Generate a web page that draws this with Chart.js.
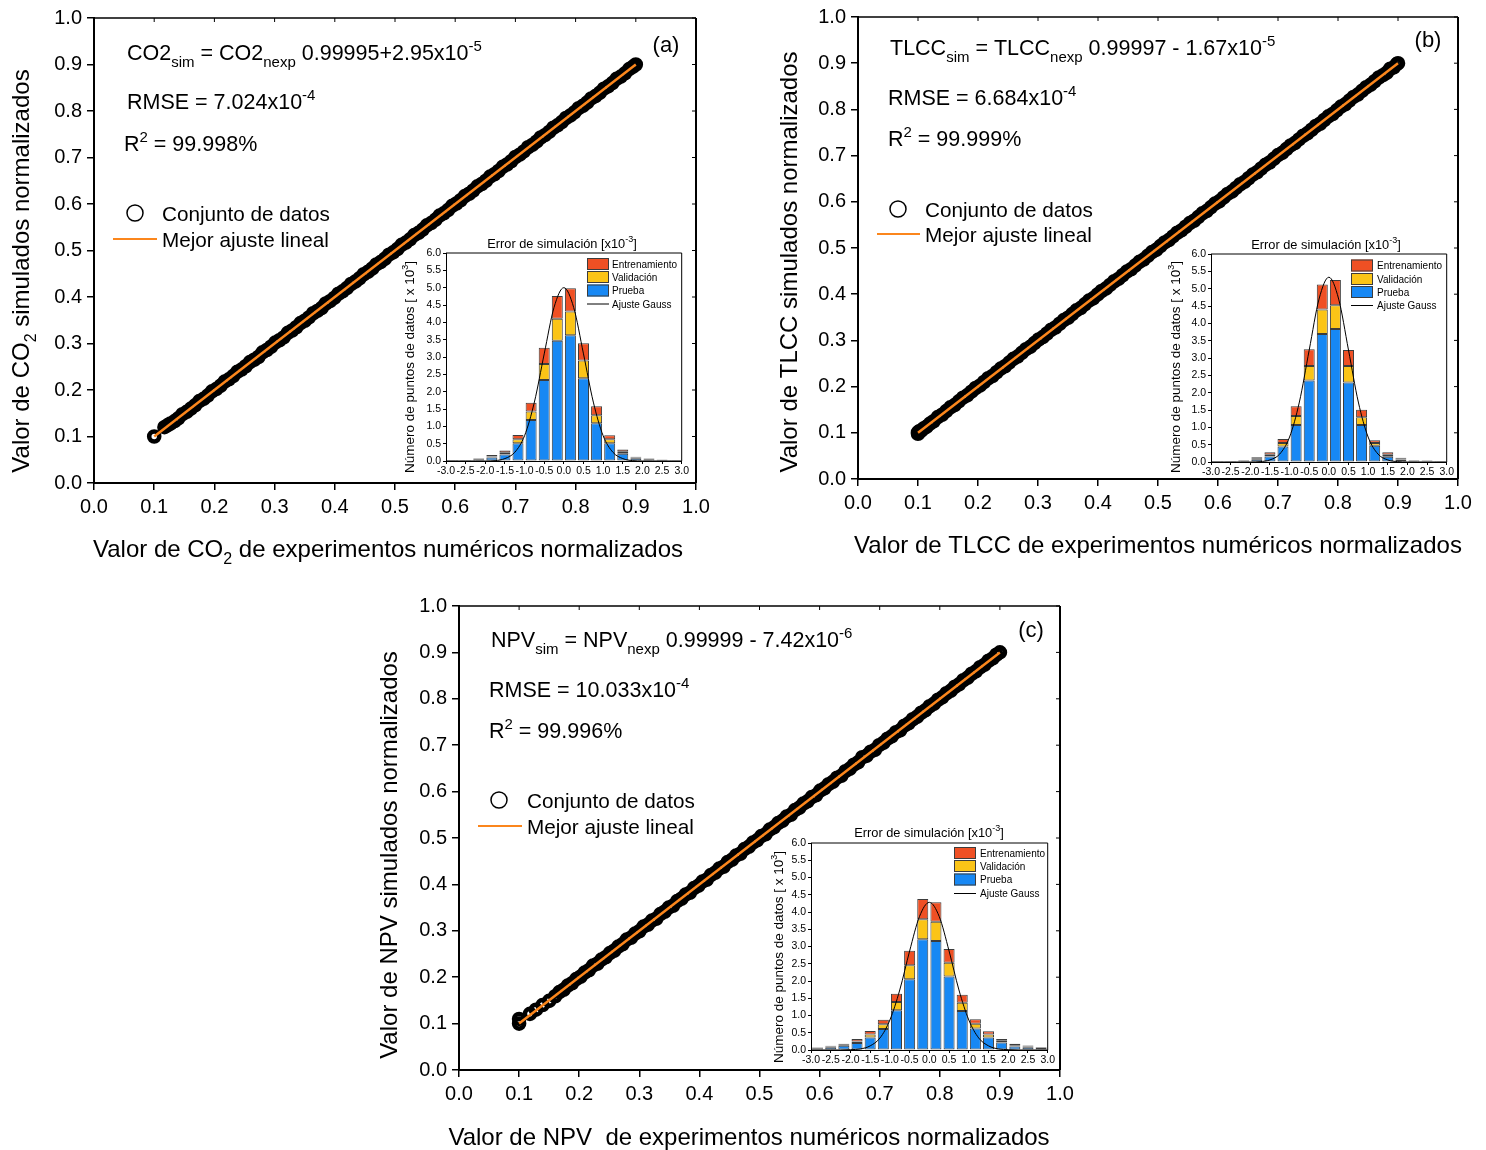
<!DOCTYPE html>
<html lang="es">
<head>
<meta charset="utf-8">
<title>Validación de simulaciones normalizadas</title>
<script src="https://cdn.jsdelivr.net/npm/chart.js@4.4.1/dist/chart.umd.min.js"></script>
<style>
  body { margin: 0; background: #fff; }
  #page { position: relative; width: 1486px; height: 1150px; overflow: hidden; background: #fff; }
  canvas { position: absolute; }
  .inset { z-index: 2; }
</style>
</head>
<body>
<div id="page">
  <canvas id="mainA" width="745" height="580" style="left:0;top:0"></canvas>
  <canvas id="mainB" width="741" height="580" style="left:745px;top:0"></canvas>
  <canvas id="mainC" width="745" height="565" style="left:360px;top:585px"></canvas>
  <canvas id="histA" class="inset" width="290" height="250" style="left:400px;top:230px"></canvas>
  <canvas id="histB" class="inset" width="290" height="250" style="left:1165px;top:230px"></canvas>
  <canvas id="histC" class="inset" width="290" height="250" style="left:766px;top:818px"></canvas>
</div>
<script>
// ---- datos: [experimento normalizado, simulado normalizado] ----
const ptsCO2 = [[0.100,0.100],[0.117,0.120],[0.122,0.124],[0.127,0.128],[0.134,0.133],[0.140,0.139],[0.147,0.148],[0.154,0.153],[0.161,0.160],[0.168,0.167],[0.175,0.176],[0.182,0.181],[0.189,0.188],[0.196,0.197],[0.203,0.202],[0.210,0.209],[0.217,0.218],[0.224,0.223],[0.231,0.230],[0.238,0.239],[0.245,0.244],[0.252,0.251],[0.259,0.260],[0.266,0.265],[0.273,0.271],[0.280,0.281],[0.287,0.286],[0.294,0.293],[0.301,0.302],[0.308,0.307],[0.315,0.313],[0.322,0.323],[0.329,0.328],[0.336,0.335],[0.343,0.344],[0.350,0.349],[0.357,0.356],[0.364,0.365],[0.371,0.370],[0.378,0.376],[0.385,0.386],[0.392,0.391],[0.399,0.398],[0.406,0.407],[0.413,0.412],[0.420,0.419],[0.427,0.428],[0.434,0.433],[0.441,0.440],[0.448,0.449],[0.455,0.454],[0.462,0.461],[0.469,0.470],[0.476,0.475],[0.483,0.482],[0.490,0.491],[0.497,0.496],[0.504,0.503],[0.511,0.512],[0.518,0.517],[0.525,0.524],[0.532,0.533],[0.539,0.538],[0.546,0.545],[0.553,0.554],[0.560,0.559],[0.567,0.566],[0.574,0.575],[0.581,0.580],[0.588,0.587],[0.595,0.596],[0.602,0.601],[0.609,0.608],[0.616,0.617],[0.623,0.622],[0.630,0.629],[0.637,0.638],[0.644,0.643],[0.651,0.650],[0.658,0.659],[0.665,0.664],[0.672,0.671],[0.679,0.680],[0.686,0.685],[0.693,0.692],[0.700,0.701],[0.707,0.706],[0.714,0.713],[0.721,0.722],[0.728,0.727],[0.735,0.734],[0.742,0.743],[0.749,0.748],[0.756,0.755],[0.763,0.764],[0.770,0.769],[0.777,0.776],[0.784,0.785],[0.791,0.790],[0.798,0.797],[0.805,0.806],[0.812,0.811],[0.819,0.818],[0.826,0.827],[0.833,0.832],[0.840,0.839],[0.847,0.848],[0.854,0.853],[0.861,0.860],[0.868,0.869],[0.875,0.874],[0.882,0.881],[0.889,0.890],[0.895,0.895],[0.900,0.900]];

const ptsTLCC = [[0.100,0.098],[0.100,0.101],[0.102,0.103],[0.105,0.104],[0.109,0.109],[0.114,0.113],[0.120,0.120],[0.126,0.125],[0.133,0.134],[0.140,0.139],[0.147,0.147],[0.154,0.155],[0.161,0.160],[0.168,0.168],[0.175,0.176],[0.182,0.181],[0.189,0.189],[0.196,0.197],[0.203,0.202],[0.210,0.210],[0.217,0.218],[0.224,0.223],[0.231,0.231],[0.238,0.239],[0.245,0.244],[0.252,0.252],[0.259,0.260],[0.266,0.265],[0.273,0.273],[0.280,0.281],[0.287,0.286],[0.294,0.294],[0.301,0.302],[0.308,0.307],[0.315,0.315],[0.322,0.323],[0.329,0.328],[0.336,0.336],[0.343,0.344],[0.350,0.349],[0.357,0.357],[0.364,0.365],[0.371,0.370],[0.378,0.378],[0.385,0.386],[0.392,0.391],[0.399,0.399],[0.406,0.407],[0.413,0.412],[0.420,0.420],[0.427,0.428],[0.434,0.433],[0.441,0.441],[0.448,0.449],[0.455,0.454],[0.462,0.462],[0.469,0.470],[0.476,0.475],[0.483,0.483],[0.490,0.491],[0.497,0.496],[0.504,0.504],[0.511,0.512],[0.518,0.517],[0.525,0.525],[0.532,0.533],[0.539,0.538],[0.546,0.546],[0.553,0.554],[0.560,0.559],[0.567,0.567],[0.574,0.575],[0.581,0.580],[0.588,0.588],[0.595,0.596],[0.602,0.601],[0.609,0.609],[0.616,0.617],[0.623,0.622],[0.630,0.630],[0.637,0.638],[0.644,0.643],[0.651,0.651],[0.658,0.659],[0.665,0.664],[0.672,0.672],[0.679,0.680],[0.686,0.685],[0.693,0.693],[0.700,0.701],[0.707,0.706],[0.714,0.714],[0.721,0.722],[0.728,0.727],[0.735,0.735],[0.742,0.743],[0.749,0.748],[0.756,0.756],[0.763,0.764],[0.770,0.769],[0.777,0.777],[0.784,0.785],[0.791,0.790],[0.798,0.798],[0.805,0.806],[0.812,0.811],[0.819,0.819],[0.826,0.827],[0.833,0.832],[0.840,0.840],[0.847,0.848],[0.854,0.853],[0.861,0.861],[0.868,0.869],[0.875,0.874],[0.881,0.879],[0.887,0.888],[0.893,0.891],[0.898,0.898],[0.900,0.900]];

const ptsNPV = [[0.100,0.100],[0.100,0.110],[0.118,0.121],[0.128,0.130],[0.139,0.140],[0.150,0.149],[0.160,0.159],[0.167,0.168],[0.174,0.173],[0.181,0.182],[0.188,0.187],[0.195,0.196],[0.202,0.201],[0.209,0.210],[0.216,0.215],[0.223,0.225],[0.230,0.229],[0.237,0.238],[0.244,0.243],[0.251,0.252],[0.258,0.257],[0.265,0.266],[0.272,0.271],[0.279,0.281],[0.286,0.285],[0.293,0.294],[0.300,0.299],[0.307,0.309],[0.314,0.313],[0.321,0.322],[0.328,0.326],[0.335,0.336],[0.342,0.341],[0.349,0.350],[0.356,0.354],[0.363,0.364],[0.370,0.369],[0.377,0.378],[0.384,0.382],[0.391,0.392],[0.398,0.397],[0.405,0.406],[0.412,0.410],[0.419,0.420],[0.426,0.425],[0.433,0.434],[0.440,0.438],[0.447,0.448],[0.454,0.453],[0.461,0.462],[0.468,0.466],[0.475,0.476],[0.482,0.481],[0.489,0.490],[0.496,0.495],[0.503,0.504],[0.510,0.508],[0.517,0.518],[0.524,0.523],[0.531,0.532],[0.538,0.537],[0.545,0.546],[0.552,0.550],[0.559,0.560],[0.566,0.565],[0.573,0.574],[0.580,0.579],[0.587,0.588],[0.594,0.592],[0.601,0.602],[0.608,0.607],[0.615,0.616],[0.622,0.621],[0.629,0.630],[0.636,0.634],[0.643,0.644],[0.650,0.649],[0.657,0.658],[0.664,0.663],[0.671,0.674],[0.678,0.677],[0.685,0.686],[0.692,0.690],[0.699,0.700],[0.706,0.705],[0.713,0.714],[0.720,0.719],[0.727,0.728],[0.734,0.732],[0.741,0.742],[0.748,0.747],[0.755,0.756],[0.762,0.761],[0.769,0.770],[0.776,0.775],[0.783,0.784],[0.790,0.789],[0.797,0.798],[0.804,0.803],[0.811,0.812],[0.818,0.817],[0.825,0.826],[0.832,0.831],[0.839,0.840],[0.846,0.845],[0.853,0.854],[0.860,0.859],[0.867,0.868],[0.874,0.873],[0.881,0.882],[0.888,0.887],[0.894,0.895],[0.900,0.900]];

// mejor ajuste lineal (extremos, de la ecuación de cada panel)
const fitX = [0.1, 0.9];
const fitCO2 = [0.10002, 0.89999];
const fitTLCC = [0.09998, 0.89996];
const fitNPV = [0.09999, 0.89998];

// histogramas del error de simulación [x10^-3], conteos en miles
const binX = [-2.833,-2.5,-2.167,-1.833,-1.5,-1.167,-0.833,-0.5,-0.167,0.167,0.5,0.833,1.167,1.5,1.833,2.167,2.5,2.833];

const pruebaA = [0.01,0.02,0.05,0.10,0.19,0.51,1.18,2.34,3.47,3.63,2.39,1.09,0.51,0.21,0.08,0.05,0.03,0.02];
const validA  = [0.005,0.005,0.015,0.03,0.05,0.12,0.25,0.46,0.63,0.68,0.51,0.23,0.12,0.06,0.02,0.01,0.005,0.005];
const entrenA = [0.005,0.005,0.015,0.04,0.06,0.12,0.25,0.47,0.66,0.67,0.50,0.26,0.11,0.06,0.02,0.01,0.005,0.005];

const pruebaB = [0.02,0.02,0.04,0.08,0.16,0.45,1.07,2.35,3.69,3.84,2.29,1.07,0.47,0.15,0.07,0.04,0.02,0.02];
const validB  = [0.005,0.005,0.01,0.03,0.05,0.10,0.26,0.42,0.71,0.68,0.48,0.22,0.08,0.06,0.025,0.01,0.01,0.005];
const entrenB = [0.005,0.005,0.01,0.03,0.07,0.11,0.28,0.48,0.72,0.73,0.46,0.22,0.08,0.07,0.025,0.01,0.01,0.005];

const pruebaC = [0.05,0.08,0.12,0.20,0.36,0.61,1.15,2.05,3.21,3.16,2.13,1.13,0.62,0.36,0.22,0.10,0.08,0.06];
const validC  = [0.01,0.02,0.03,0.05,0.09,0.14,0.24,0.41,0.58,0.56,0.40,0.24,0.14,0.09,0.05,0.04,0.02,0.01];
const entrenC = [0.01,0.02,0.03,0.07,0.10,0.13,0.24,0.42,0.59,0.56,0.40,0.23,0.13,0.09,0.05,0.04,0.03,0.02];

// curva de ajuste Gauss leída sobre el histograma
const gaussX = [-3,-2.75,-2.5,-2.25,-2,-1.75,-1.5,-1.25,-1,-0.75,-0.5,-0.25,0,0.25,0.5,0.75,1,1.25,1.5,1.75,2,2.25,2.5,2.75,3];
const gaussA = [0,0,0,0,0,0.01,0.07,0.25,0.73,1.70,3.09,4.43,5.00,4.43,3.09,1.70,0.73,0.25,0.07,0.01,0,0,0,0,0];
const gaussB = [0,0,0,0,0,0.01,0.06,0.23,0.72,1.73,3.23,4.70,5.33,4.70,3.23,1.73,0.72,0.23,0.06,0.01,0,0,0,0,0];
const gaussC = [0,0,0,0,0.01,0.03,0.12,0.35,0.87,1.74,2.87,3.87,4.28,3.87,2.87,1.74,0.87,0.35,0.12,0.03,0.01,0,0,0,0];

const mainTicks = [0, 0.1, 0.2, 0.3, 0.4, 0.5, 0.6, 0.7, 0.8, 0.9, 1.0];

// ---- estilos ----
const FONT = '"Liberation Sans", Arial, Helvetica, sans-serif';
const ORANGE = '#fb861c';
const C_ENTREN = '#ef5024';
const C_VALID = '#fbc417';
const C_PRUEBA = '#1788f4';
const EDGE = '#3c3c3c';

Chart.defaults.font.family = FONT;
Chart.defaults.color = '#000';

// texto con subíndices / superíndices: parts = [[texto, '' | 'sub' | 'sup'], ...]
function drawRich(ctx, parts, x, y, size, align) {
  const small = Math.round(size * 0.68);
  let w = 0;
  parts.forEach(([t, k]) => {
    ctx.font = (k ? small : size) + 'px ' + FONT;
    w += ctx.measureText(t).width;
  });
  let cx = align === 'center' ? x - w / 2 : x;
  ctx.textAlign = 'left';
  ctx.textBaseline = 'alphabetic';
  parts.forEach(([t, k]) => {
    ctx.font = (k ? small : size) + 'px ' + FONT;
    const dy = k === 'sub' ? size * 0.32 : (k === 'sup' ? -size * 0.42 : 0);
    ctx.fillText(t, cx, y + dy);
    cx += ctx.measureText(t).width;
  });
}

function drawRotated(ctx, parts, x, y, size) {
  ctx.save();
  ctx.translate(x, y);
  ctx.rotate(-Math.PI / 2);
  drawRich(ctx, parts, 0, size * 0.36, size, 'center');
  ctx.restore();
}

function seg(ctx, x1, y1, x2, y2) {
  ctx.beginPath();
  ctx.moveTo(x1, y1);
  ctx.lineTo(x2, y2);
  ctx.stroke();
}

// marco, textos y leyenda de cada panel principal
function panelDecor(cfg) {
  return {
    id: 'panelDecor',
    afterDraw(chart) {
      const ctx = chart.ctx, a = chart.chartArea;
      const sx = chart.scales.x, sy = chart.scales.y;
      const ox = cfg.ox, oy = cfg.oy;
      ctx.save();
      ctx.strokeStyle = '#000';
      ctx.fillStyle = '#000';
      ctx.lineWidth = 1.5;
      seg(ctx, a.left, a.top, a.right, a.top);
      ctx.lineWidth = 2;
      seg(ctx, a.right, a.top, a.right, a.bottom);
      ctx.lineWidth = 1;
      mainTicks.forEach(v => {
        const px = sx.getPixelForValue(v);
        seg(ctx, px, a.top, px, a.top + 4);
        const py = sy.getPixelForValue(v);
        seg(ctx, a.right - 4, py, a.right, py);
      });

      cfg.eq.forEach(l => drawRich(ctx, l.parts, l.x - ox, l.y - oy, 21.5, 'left'));
      drawRich(ctx, [[cfg.letter.t, '']], cfg.letter.x - ox, cfg.letter.y - oy, 22, 'center');

      // leyenda
      const lg = cfg.legend;
      ctx.lineWidth = 1.5;
      ctx.beginPath();
      ctx.arc(lg.cx - ox, lg.cy - oy, 8, 0, Math.PI * 2);
      ctx.stroke();
      ctx.strokeStyle = ORANGE;
      ctx.lineWidth = 2;
      seg(ctx, lg.x1 - ox, lg.ly - oy, lg.x2 - ox, lg.ly - oy);
      drawRich(ctx, [['Conjunto de datos', '']], lg.tx - ox, lg.cy - oy + 7.5, 20.7, 'left');
      drawRich(ctx, [['Mejor ajuste lineal', '']], lg.tx - ox, lg.ly - oy + 7.5, 20.7, 'left');

      drawRich(ctx, cfg.xTitle.parts, cfg.xTitle.x - ox, cfg.xTitle.y - oy + 8.5, 24, 'center');
      drawRotated(ctx, cfg.yTitle.parts, cfg.yTitle.x - ox, cfg.yTitle.y - oy, 24);
      ctx.restore();
    }
  };
}

function mainChart(id, pts, fitY, cfg) {
  const tickCb = v => Number(v).toFixed(1);
  return new Chart(document.getElementById(id), {
    type: 'scatter',
    data: {
      datasets: [
        {
          label: 'Mejor ajuste lineal',
          data: fitX.map((x, i) => ({ x: x, y: fitY[i] })),
          showLine: true,
          borderColor: ORANGE,
          borderWidth: 2.5,
          pointRadius: 0,
          order: 0
        },
        {
          label: 'Conjunto de datos',
          data: pts.map(p => ({ x: p[0], y: p[1] })),
          pointRadius: 5,
          pointBorderWidth: 4.6,
          pointBorderColor: '#000',
          pointBackgroundColor: 'rgba(0,0,0,0)',
          order: 1
        }
      ]
    },
    options: {
      responsive: false,
      animation: false,
      events: [],
      layout: { padding: { top: cfg.area.top, right: cfg.w - cfg.area.right, left: 0, bottom: 0 } },
      plugins: { legend: { display: false }, tooltip: { enabled: false } },
      scales: {
        x: {
          type: 'linear', min: 0, max: 1,
          ticks: { stepSize: 0.1, callback: tickCb, font: { size: 20 }, color: '#000', padding: 5, autoSkip: false, maxRotation: 0 },
          grid: { drawOnChartArea: false, tickLength: 7, color: '#000', lineWidth: 1.5 },
          border: { color: '#000', width: 2 },
          afterFit: s => { s.height = cfg.h - cfg.area.bottom; }
        },
        y: {
          type: 'linear', min: 0, max: 1,
          ticks: { stepSize: 0.1, callback: tickCb, font: { size: 20 }, color: '#000', padding: 5, autoSkip: false },
          grid: { drawOnChartArea: false, tickLength: 7, color: '#000', lineWidth: 1.5 },
          border: { color: '#000', width: 2 },
          afterFit: s => { s.width = cfg.area.left; }
        }
      }
    },
    plugins: [panelDecor(cfg)]
  });
}

// marco, título, eje y y leyenda de los histogramas
function insetDecor(cfg) {
  return {
    id: 'insetDecor',
    afterDraw(chart) {
      const ctx = chart.ctx, a = chart.chartArea;
      const ox = cfg.ox, oy = cfg.oy;
      ctx.save();
      ctx.strokeStyle = '#000';
      ctx.fillStyle = '#000';
      ctx.lineWidth = 1;
      seg(ctx, a.left, a.top, a.right, a.top);
      seg(ctx, a.right, a.top, a.right, a.bottom);

      drawRich(ctx, [['Error de simulación [x10', ''], ['-3', 'sup'], [']', '']], cfg.title.x - ox, cfg.title.y - oy + 4.5, 12.8, 'center');
      drawRotated(ctx, [['Número de puntos de datos [ x 10', ''], ['3', 'sup'], [']', '']], cfg.yl.x - ox, cfg.yl.y - oy, 13.5);

      const lg = cfg.legend;
      const names = ['Entrenamiento', 'Validación', 'Prueba', 'Ajuste Gauss'];
      const fills = [C_ENTREN, C_VALID, C_PRUEBA];
      names.forEach((n, i) => {
        const cy = lg.rows[i] - oy, bx = lg.x - ox;
        if (i < 3) {
          ctx.fillStyle = fills[i];
          ctx.fillRect(bx, cy - 6, 22, 12);
          ctx.strokeStyle = EDGE;
          ctx.lineWidth = 1;
          ctx.strokeRect(bx + 0.5, cy - 6 + 0.5, 21, 11);
        } else {
          ctx.strokeStyle = '#000';
          ctx.lineWidth = 1;
          seg(ctx, bx, cy, bx + 22, cy);
        }
        ctx.fillStyle = '#000';
        drawRich(ctx, [[n, '']], lg.tx - ox, cy + 3.5, 10, 'left');
      });
      ctx.restore();
    }
  };
}

function insetChart(id, prueba, valid, entren, gauss, cfg) {
  const barSet = (label, vals, color) => ({
    label: label,
    data: binX.map((x, i) => ({ x: x, y: vals[i] })),
    backgroundColor: color,
    borderColor: EDGE,
    borderWidth: 1,
    borderSkipped: false,
    stack: 'hist',
    order: 1
  });
  const tickCb = v => Number(v).toFixed(1);
  return new Chart(document.getElementById(id), {
    type: 'bar',
    data: {
      datasets: [
        {
          type: 'line',
          label: 'Ajuste Gauss',
          data: gaussX.map((x, i) => ({ x: x, y: gauss[i] })),
          borderColor: '#000',
          borderWidth: 1,
          pointRadius: 0,
          cubicInterpolationMode: 'monotone',
          stack: 'fit',
          order: 0
        },
        barSet('Prueba', prueba, C_PRUEBA),
        barSet('Validación', valid, C_VALID),
        barSet('Entrenamiento', entren, C_ENTREN)
      ]
    },
    options: {
      responsive: false,
      animation: false,
      events: [],
      datasets: { bar: { barPercentage: 0.84, categoryPercentage: 1 } },
      layout: { padding: { top: cfg.area.top, right: cfg.w - cfg.area.right, left: 0, bottom: 0 } },
      plugins: { legend: { display: false }, tooltip: { enabled: false } },
      scales: {
        x: {
          type: 'linear', min: -3, max: 3, offset: false, stacked: true,
          ticks: { stepSize: 0.5, callback: tickCb, font: { size: 10.5 }, color: '#000', padding: 1, autoSkip: false, maxRotation: 0 },
          grid: { offset: false, drawOnChartArea: false, tickLength: 3, color: '#000' },
          border: { color: '#000', width: 1 },
          afterFit: s => { s.height = cfg.h - cfg.area.bottom; }
        },
        y: {
          type: 'linear', min: 0, max: 6, stacked: true,
          ticks: { stepSize: 0.5, callback: tickCb, font: { size: 10.5 }, color: '#000', padding: 2, autoSkip: false },
          grid: { drawOnChartArea: false, tickLength: 3, color: '#000' },
          border: { color: '#000', width: 1 },
          afterFit: s => { s.width = cfg.area.left; }
        }
      }
    },
    plugins: [insetDecor(cfg)]
  });
}

// ---- panel (a): CO2 ----
mainChart('mainA', ptsCO2, fitCO2, {
  ox: 0, oy: 0, w: 745, h: 580,
  area: { left: 94, top: 18, right: 696, bottom: 483 },
  eq: [
    { x: 127, y: 60, parts: [['CO2', ''], ['sim', 'sub'], [' = CO2', ''], ['nexp', 'sub'], [' 0.99995+2.95x10', ''], ['-5', 'sup']] },
    { x: 127, y: 109, parts: [['RMSE = 7.024x10', ''], ['-4', 'sup']] },
    { x: 124, y: 151, parts: [['R', ''], ['2', 'sup'], [' = 99.998%', '']] }
  ],
  letter: { t: '(a)', x: 666, y: 52 },
  legend: { cx: 135, cy: 213, x1: 113, x2: 157, ly: 239, tx: 162 },
  xTitle: { x: 388, y: 548, parts: [['Valor de CO', ''], ['2', 'sub'], [' de experimentos numéricos normalizados', '']] },
  yTitle: { x: 20, y: 271, parts: [['Valor de CO', ''], ['2', 'sub'], [' simulados normalizados', '']] }
});

// ---- panel (b): TLCC ----
mainChart('mainB', ptsTLCC, fitTLCC, {
  ox: 745, oy: 0, w: 741, h: 580,
  area: { left: 113, top: 14, right: 713, bottom: 479 },
  eq: [
    { x: 890, y: 55, parts: [['TLCC', ''], ['sim', 'sub'], [' = TLCC', ''], ['nexp', 'sub'], [' 0.99997 - 1.67x10', ''], ['-5', 'sup']] },
    { x: 888, y: 105, parts: [['RMSE = 6.684x10', ''], ['-4', 'sup']] },
    { x: 888, y: 146, parts: [['R', ''], ['2', 'sup'], [' = 99.999%', '']] }
  ],
  letter: { t: '(b)', x: 1428, y: 47 },
  legend: { cx: 898, cy: 209, x1: 877, x2: 920, ly: 234, tx: 925 },
  xTitle: { x: 1158, y: 544, parts: [['Valor de TLCC de experimentos numéricos normalizados', '']] },
  yTitle: { x: 788, y: 262, parts: [['Valor de TLCC simulados normalizados', '']] }
});

// ---- panel (c): NPV ----
mainChart('mainC', ptsNPV, fitNPV, {
  ox: 360, oy: 585, w: 745, h: 565,
  area: { left: 99, top: 21, right: 700, bottom: 485 },
  eq: [
    { x: 491, y: 647, parts: [['NPV', ''], ['sim', 'sub'], [' = NPV', ''], ['nexp', 'sub'], [' 0.99999 - 7.42x10', ''], ['-6', 'sup']] },
    { x: 489, y: 697, parts: [['RMSE = 10.033x10', ''], ['-4', 'sup']] },
    { x: 489, y: 738, parts: [['R', ''], ['2', 'sup'], [' = 99.996%', '']] }
  ],
  letter: { t: '(c)', x: 1031, y: 637 },
  legend: { cx: 499, cy: 800, x1: 478, x2: 522, ly: 826, tx: 527 },
  xTitle: { x: 749, y: 1136, parts: [['Valor de NPV  de experimentos numéricos normalizados', '']] },
  yTitle: { x: 388, y: 855, parts: [['Valor de NPV simulados normalizados', '']] }
});

// ---- histogramas insertados ----
insetChart('histA', pruebaA, validA, entrenA, gaussA, {
  ox: 400, oy: 230, w: 290, h: 250,
  area: { left: 46, top: 23, right: 282, bottom: 231 },
  title: { x: 562, y: 243 },
  yl: { x: 409, y: 367 },
  legend: { x: 587, tx: 612, rows: [264, 277, 290.5, 304] }
});

insetChart('histB', pruebaB, validB, entrenB, gaussB, {
  ox: 1165, oy: 230, w: 290, h: 250,
  area: { left: 46, top: 24, right: 282, bottom: 232 },
  title: { x: 1326, y: 244 },
  yl: { x: 1175, y: 367 },
  legend: { x: 1351, tx: 1377, rows: [265.5, 279, 292, 305.5] }
});

insetChart('histC', pruebaC, validC, entrenC, gaussC, {
  ox: 766, oy: 818, w: 290, h: 250,
  area: { left: 45, top: 25, right: 285, bottom: 232 },
  title: { x: 929, y: 832 },
  yl: { x: 778, y: 957 },
  legend: { x: 954, tx: 980, rows: [853, 866, 879.5, 893.5] }
});
</script>
</body>
</html>
